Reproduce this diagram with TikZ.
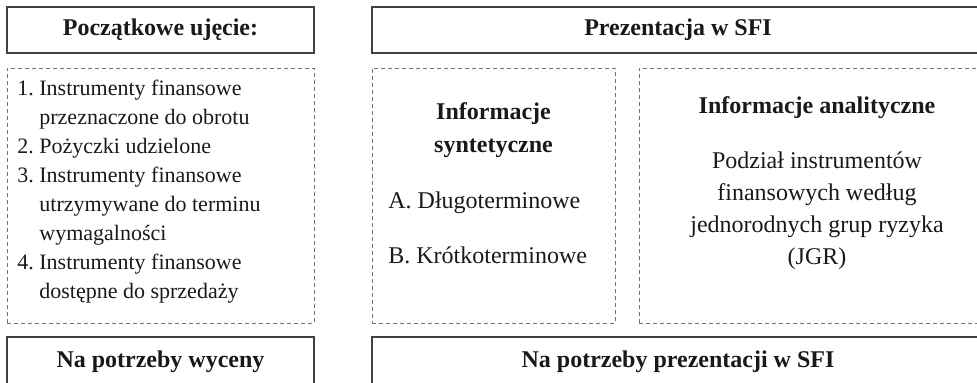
\documentclass[tikz,border=0pt]{standalone}
\usepackage{fontspec}
\setmainfont{Liberation Serif}
\usepackage{tikz}
\usetikzlibrary{positioning}

\begin{document}
\begin{tikzpicture}[
    x=0.5pt, y=-0.5pt,
    box/.style={rectangle, draw=black!75, line width=0.7pt, inner sep=0pt, minimum height=23pt, text=black!90, font=\fontsize{12}{14}\selectfont\bfseries},
    dashbox/.style={rectangle, draw=black!55, line width=0.5pt, dash pattern=on 2pt off 1.5pt, inner sep=0pt, minimum height=127.5pt},
    txt/.style={inner sep=0pt, text=black!90, font=\fontsize{12}{15.9}\selectfont, align=center}
]
    \clip (0,0) rectangle (977,382);

    % Headers
    \node[box, minimum width=153.5pt] (pocz) at (160.5,30) {Początkowe ujęcie:};
    \node[box, minimum width=306pt] (prez) at (678,30) {Prezentacja w SFI};

    % Dashed groups
    \node[dashbox, minimum width=153.5pt] (lista) at (160.5,195.5) {};
    \node[dashbox, minimum width=121.5pt] (synt) at (493.5,195.5) {};
    \node[dashbox, minimum width=178pt] (anal) at (817,195.5) {};

    % Left list
    \node[txt, anchor=west, align=left, font=\fontsize{11}{14.5}\selectfont] (listatxt) at (17,191) {%
        \begin{tabular}{@{}r@{\ }l@{}}
        1. & Instrumenty finansowe\\
           & przeznaczone do obrotu\\
        2. & Pożyczki udzielone\\
        3. & Instrumenty finansowe\\
           & utrzymywane do terminu\\
           & wymagalności\\
        4. & Instrumenty finansowe\\
           & dostępne do sprzedaży
        \end{tabular}};

    % Synthetic info
    \node[txt, font=\fontsize{12}{16.5}\selectfont\bfseries] (synthead) at (493.5,130) {Informacje\\syntetyczne};
    \node[txt, anchor=west, align=left, font=\fontsize{12}{27.5}\selectfont] (synttxt) at (388,227.5) {A. Długoterminowe\\B. Krótkoterminowe};

    % Analytic info
    \node[txt, font=\fontsize{12}{14}\selectfont\bfseries] (analhead) at (817,108) {Informacje analityczne};
    \node[txt] (analtxt) at (817,210.5) {Podział instrumentów\\finansowych według\\jednorodnych grup ryzyka\\(JGR)};

    % Footers
    \node[box, minimum width=153.5pt, minimum height=25pt] (wyc) at (160.5,362) {Na potrzeby wyceny};
    \node[box, minimum width=306pt, minimum height=25pt] (prezsfi) at (678,362) {Na potrzeby prezentacji w SFI};
\end{tikzpicture}
\end{document}
